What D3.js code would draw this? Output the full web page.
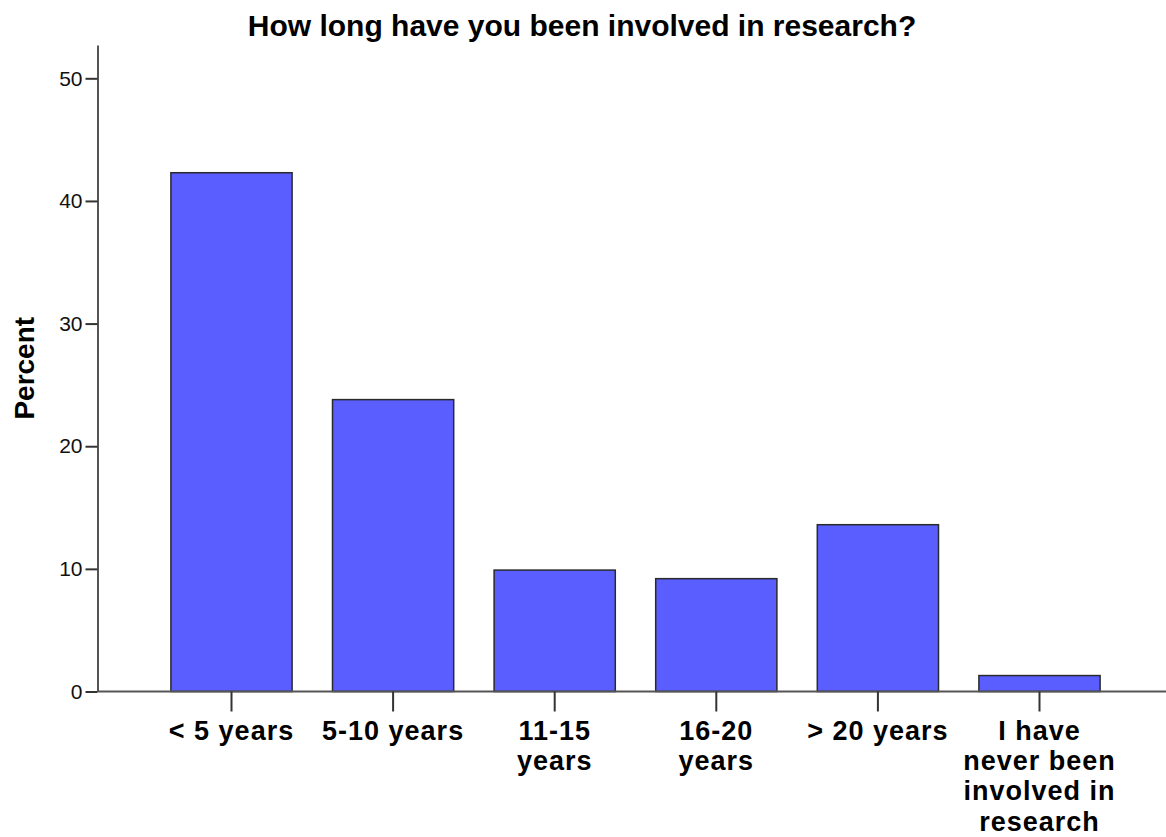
<!DOCTYPE html>
<html>
<head>
<meta charset="utf-8">
<script src="https://cdn.jsdelivr.net/npm/d3@7/dist/d3.min.js"></script>
<style>
  html, body { margin: 0; padding: 0; background: #fff; }
  svg { display: block; }
</style>
</head>
<body>
<svg id="chart" width="1166" height="837"></svg>
<script>
const categories = [
  ["< 5 years"],
  ["5-10 years"],
  ["11-15", "years"],
  ["16-20", "years"],
  ["> 20 years"],
  ["I have", "never been", "involved in", "research"]
];
const values = [42.3, 23.8, 9.9, 9.2, 13.6, 1.3];
const yTicks = [0, 10, 20, 30, 40, 50];
const title = "How long have you been involved in research?";
const yTitle = "Percent";

const svg = d3.select("#chart");
const font = "'Liberation Sans', Arial, sans-serif";

const axisX = 97.5, baseY = 691.5, topY = 45;
const y = d3.scaleLinear().domain([0, 50]).range([baseY, 78.3]);
const yMax = y.invert(topY);
y.domain([0, yMax]).range([baseY, topY]);

const x = d3.scaleBand()
  .domain(d3.range(categories.length))
  .range([150.7, 1120.3])
  .paddingInner(0.25)
  .paddingOuter(0.125);

// bars
svg.append("g").selectAll("rect")
  .data(values)
  .join("rect")
  .attr("x", (d, i) => x(i))
  .attr("y", d => y(d))
  .attr("width", x.bandwidth())
  .attr("height", d => y(0) - y(d))
  .attr("fill", "#5a5eff")
  .attr("stroke", "#2a2a2a")
  .attr("stroke-width", 1.5);

// y axis
const yAxis = d3.axisLeft(y).tickValues(yTicks).tickSize(12).tickPadding(3).tickSizeOuter(0);
const gy = svg.append("g").attr("transform", `translate(${axisX},0)`).call(yAxis);
gy.select(".domain").attr("stroke", "#555").attr("stroke-width", 2);
gy.selectAll(".tick line").attr("stroke", "#333").attr("stroke-width", 2);
gy.selectAll(".tick text")
  .attr("font-family", font).attr("font-size", 21).attr("fill", "#111");

// x axis line across the whole width
svg.append("line")
  .attr("x1", axisX).attr("x2", 1166)
  .attr("y1", baseY).attr("y2", baseY)
  .attr("stroke", "#555").attr("stroke-width", 2);

// x ticks
const xAxis = d3.axisBottom(x).tickSize(20).tickFormat("").tickSizeOuter(0);
const gx = svg.append("g").attr("transform", `translate(0,${baseY})`).call(xAxis);
gx.select(".domain").remove();
gx.selectAll(".tick line").attr("stroke", "#333").attr("stroke-width", 2);

// x labels (multi-line)
const labels = svg.append("g");
categories.forEach((lines, i) => {
  const t = labels.append("text")
    .attr("x", x(i) + x.bandwidth() / 2)
    .attr("y", 740)
    .attr("text-anchor", "middle")
    .attr("font-family", font)
    .attr("font-weight", "bold")
    .attr("font-size", 27)
    .attr("letter-spacing", 1)
    .attr("fill", "#000");
  lines.forEach((ln, j) => {
    t.append("tspan")
      .attr("x", x(i) + x.bandwidth() / 2)
      .attr("dy", j === 0 ? 0 : 30.2)
      .text(ln);
  });
});

// title
svg.append("text")
  .attr("x", 582).attr("y", 36)
  .attr("text-anchor", "middle")
  .attr("font-family", font).attr("font-weight", "bold").attr("font-size", 30)
  .attr("fill", "#000")
  .text(title);

// y title
svg.append("text")
  .attr("transform", `translate(34,${(baseY + topY) / 2}) rotate(-90)`)
  .attr("text-anchor", "middle")
  .attr("font-family", font).attr("font-weight", "bold").attr("font-size", 28)
  .attr("fill", "#000")
  .text(yTitle);
</script>
</body>
</html>
